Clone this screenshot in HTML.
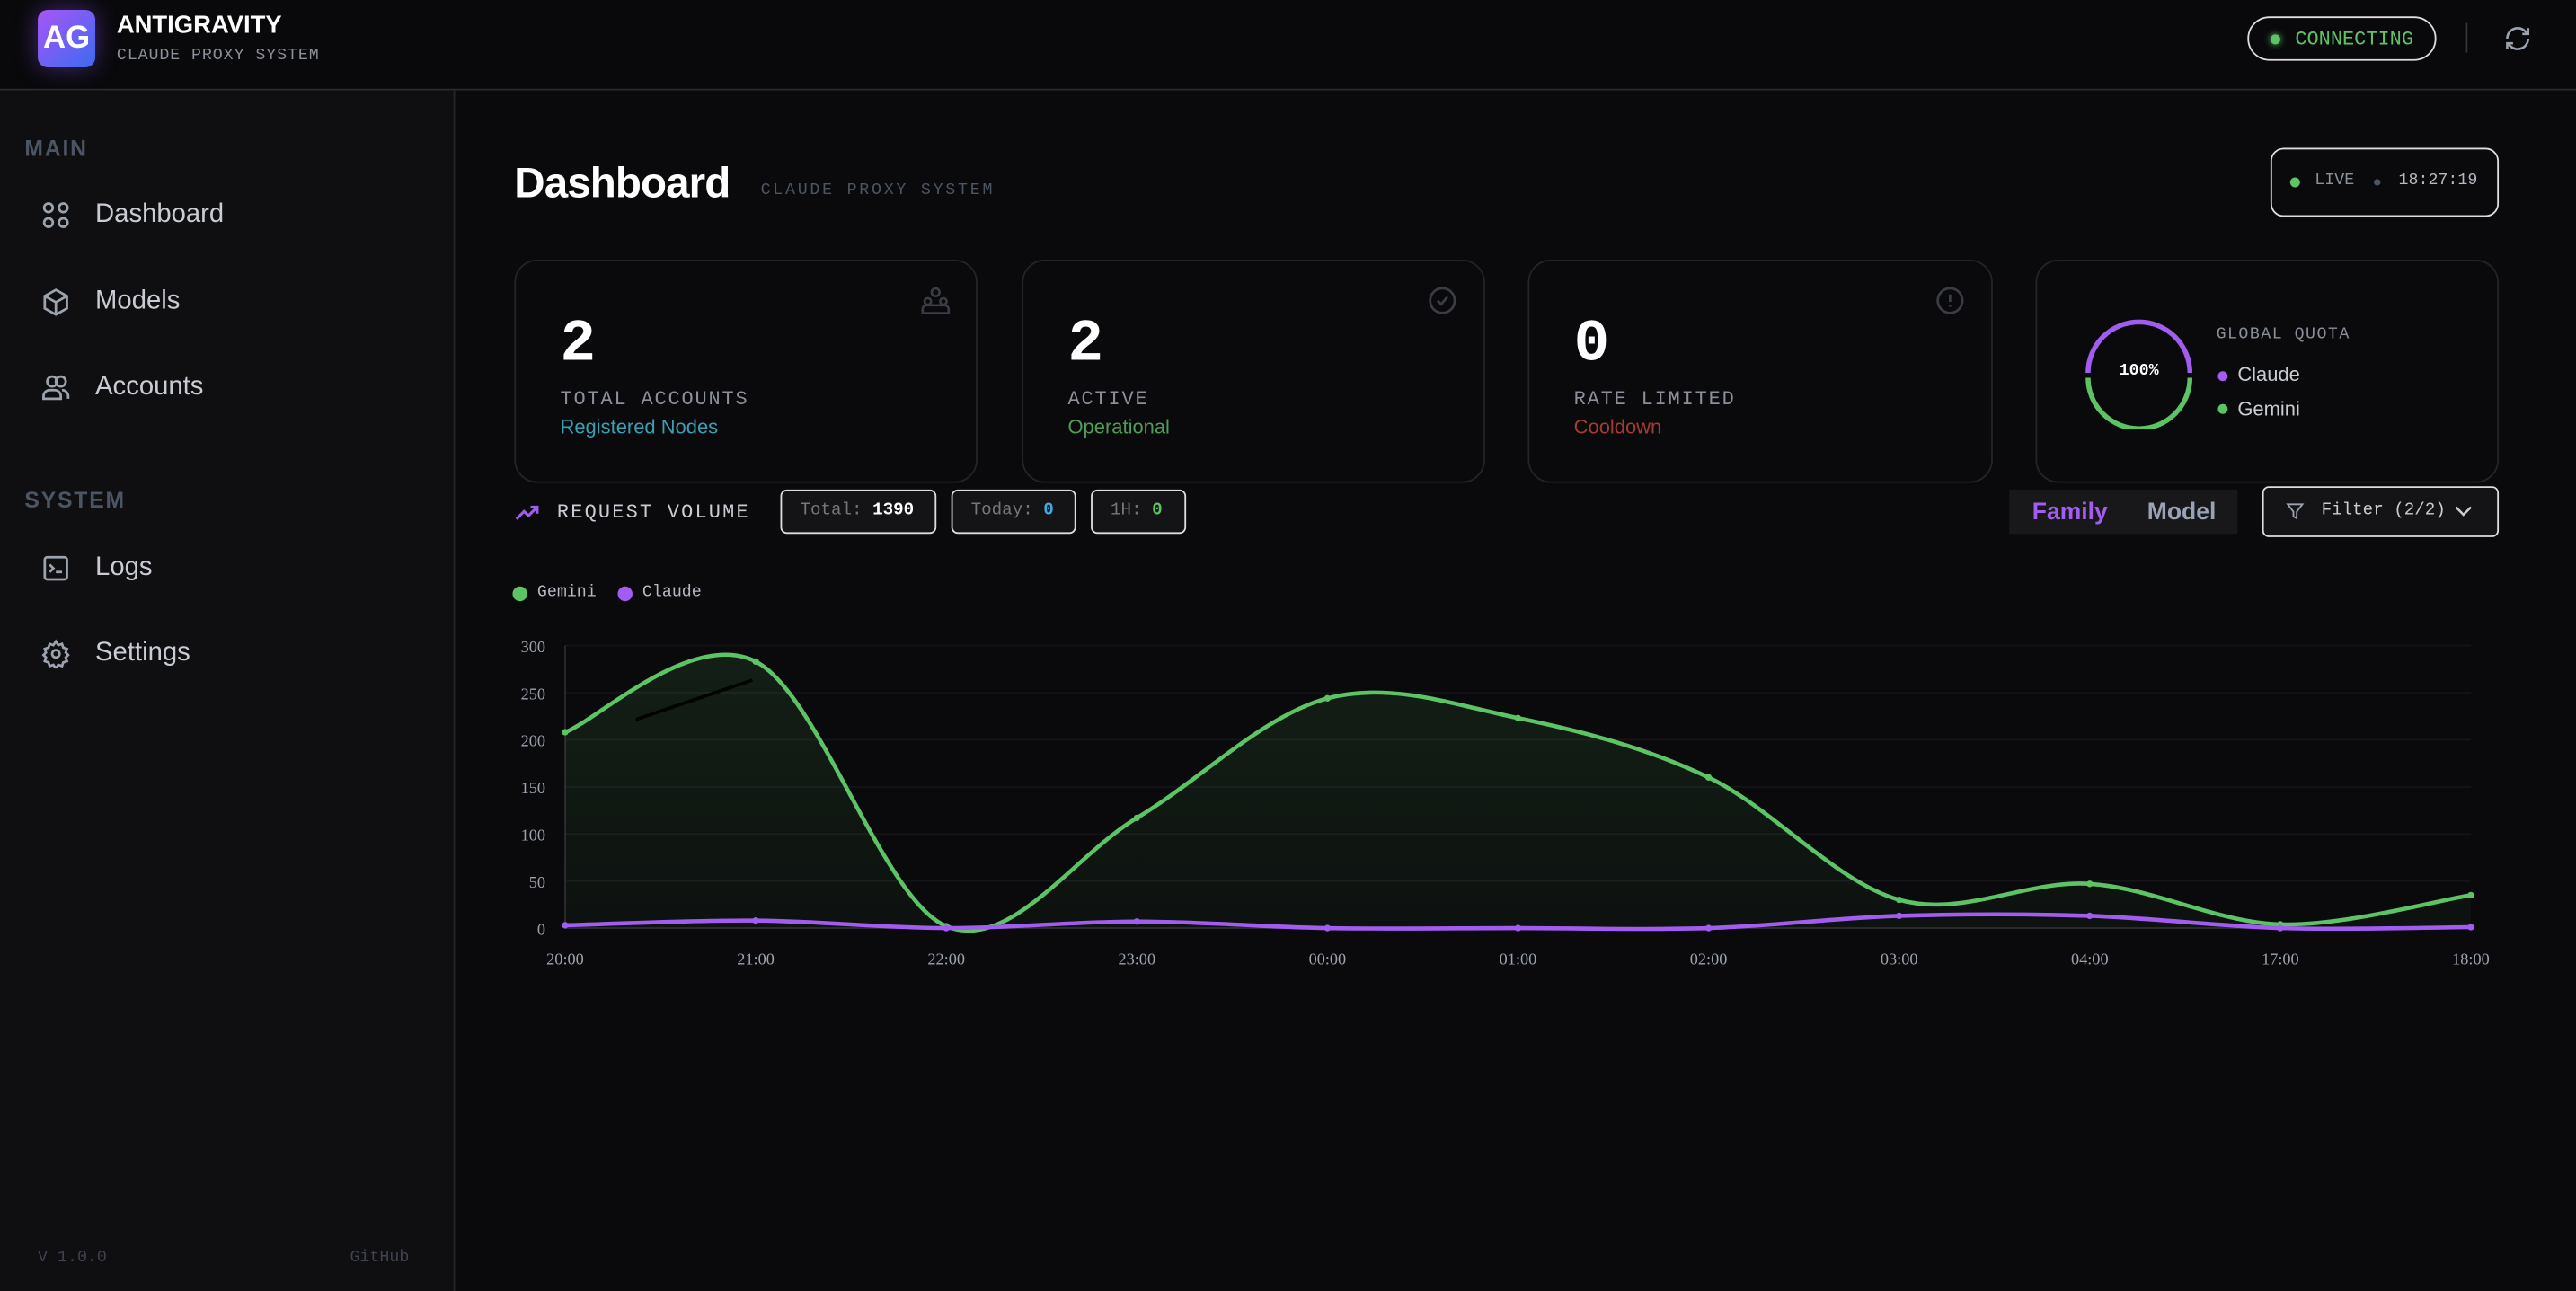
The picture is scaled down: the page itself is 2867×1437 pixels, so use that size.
<!DOCTYPE html>
<html><head><meta charset="utf-8">
<style>
html,body{margin:0;padding:0;background:#0a0a0c;overflow:hidden;width:2867px;height:1436px}
#w{position:absolute;left:0;top:0;width:1568px;height:785.4px;transform:scale(1.82844);transform-origin:0 0;font-family:"Liberation Sans",sans-serif;color:#e5e7eb}
.a{position:absolute;white-space:nowrap}
.m{font-family:"Liberation Mono",monospace}
.card{position:absolute;top:158px;height:136px;border:1px solid #232329;border-radius:14px;background:#0a0a0c;box-sizing:border-box}
.num{position:absolute;left:27px;top:30px;font:bold 36px "Liberation Mono",monospace;color:#fff}
.lbl{position:absolute;left:27px;top:77px;font:12px "Liberation Mono",monospace;letter-spacing:1px;color:#8b8f9a}
.sub{position:absolute;left:27px;top:94px;font:12px "Liberation Sans",sans-serif}
.badge{position:absolute;top:298px;height:27px;border:1px solid #ddd;border-radius:4px;background:#141417;box-sizing:border-box;font:10.5px "Liberation Mono",monospace;color:#777;line-height:25px;padding-left:11px}
.nav{position:absolute;left:58px;font-size:16px;color:#c9ccd3}
.ic{position:absolute;left:25px;width:18px;height:18px}
</style></head><body><div id="w">
<div class="a" style="left:0;top:0;width:1568px;height:54px;background:#09090b;border-bottom:1px solid #2a2a2e"></div>
<div class="a" style="left:23px;top:6px;width:35px;height:35px;border-radius:6px;background:linear-gradient(135deg,#a855f7,#3b6cf0);box-shadow:0 0 14px rgba(140,80,240,.45);color:#fff;font:bold 19px 'Liberation Sans';line-height:35px;text-align:center">AG</div>
<div class="a" style="left:71px;top:7px;font:bold 15px 'Liberation Sans';color:#fff">ANTIGRAVITY</div>
<div class="a m" style="left:71px;top:29px;font-size:10px;letter-spacing:0.5px;color:#8b8f9a">CLAUDE PROXY SYSTEM</div>
<div class="a" style="left:1368px;top:10px;width:115px;height:27px;border:1px solid #ddd;border-radius:14px;box-sizing:border-box"></div>
<div class="a" style="left:1382px;top:21px;width:6px;height:6px;border-radius:50%;background:#5cc465;box-shadow:0 0 4px #5cc465"></div>
<div class="a m" style="left:1397px;top:17px;font-size:12px;color:#5cc465">CONNECTING</div>
<div class="a" style="left:1501px;top:14px;width:1px;height:18px;background:#333"></div>
<svg class="a" style="left:1524px;top:15px" width="17" height="17" viewBox="0 0 24 24" fill="none" stroke="#9ca3af" stroke-width="2"><path d="M3 12a9 9 0 0 1 15-6.7L21 8M21 3v5h-5M21 12a9 9 0 0 1-15 6.7L3 16M3 21v-5h5"/></svg>
<div class="a" style="left:0;top:55px;width:276px;height:731px;background:#0f0f11;border-right:1px solid #26262a"></div>
<div class="a" style="left:15px;top:83px;font:bold 13.5px 'Liberation Sans';letter-spacing:1px;color:#4b5563">MAIN</div>
<svg class="ic" style="top:122px" viewBox="0 0 24 24" fill="none" stroke="#9ca3af" stroke-width="2"><circle cx="6" cy="6" r="3.5"/><circle cx="18" cy="6" r="3.5"/><circle cx="6" cy="18" r="3.5"/><circle cx="18" cy="18" r="3.5"/></svg>
<div class="nav" style="top:122px">Dashboard</div>
<svg class="ic" style="top:175px" viewBox="0 0 24 24" fill="none" stroke="#9ca3af" stroke-width="2"><path d="M12 2l9 5v10l-9 5-9-5V7z M3 7l9 5 9-5 M12 12v10"/></svg>
<div class="nav" style="top:175px">Models</div>
<svg class="ic" style="top:227px" viewBox="0 0 24 24" fill="none" stroke="#9ca3af" stroke-width="2"><circle cx="9" cy="7" r="4"/><path d="M2 21v-2a5 5 0 0 1 5-5h4a5 5 0 0 1 5 5v2z"/><circle cx="16" cy="7" r="4"/><path d="M17 14a5 5 0 0 1 5 5v2"/></svg>
<div class="nav" style="top:227px">Accounts</div>
<div class="a" style="left:15px;top:297px;font:bold 13.5px 'Liberation Sans';letter-spacing:1px;color:#4b5563">SYSTEM</div>
<svg class="ic" style="top:337px" viewBox="0 0 24 24" fill="none" stroke="#9ca3af" stroke-width="2"><rect x="3" y="3" width="18" height="18" rx="2"/><path d="M7 9l3 3-3 3M12 15h5"/></svg>
<div class="nav" style="top:337px">Logs</div>
<svg class="ic" style="top:389px" viewBox="0 0 24 24" fill="none" stroke="#9ca3af" stroke-width="2"><circle cx="12" cy="12" r="3"/><path d="M12 2l2 3 3-1 1 3 3 1-1 3 2 2-2 2 1 3-3 1-1 3-3-1-2 3-2-3-3 1-1-3-3-1 1-3-2-2 2-2-1-3 3-1 1-3 3 1z"/></svg>
<div class="nav" style="top:389px">Settings</div>
<div class="a m" style="left:23px;top:761px;font-size:10px;color:#3f4350">V 1.0.0</div>
<div class="a m" style="left:213px;top:761px;font-size:10px;color:#3f4350">GitHub</div>
<div class="a" style="left:313px;top:96px;font:bold 26px 'Liberation Sans';color:#fff;letter-spacing:-0.5px">Dashboard</div>
<div class="a m" style="left:463px;top:111px;font-size:10px;letter-spacing:1.5px;color:#4b5563">CLAUDE PROXY SYSTEM</div>
<div class="a" style="left:1382px;top:90px;width:139px;height:42px;border:1px solid #ddd;border-radius:8px;box-sizing:border-box"></div>
<div class="a" style="left:1394px;top:108px;width:6px;height:6px;border-radius:50%;background:#5cc465"></div>
<div class="a m" style="left:1409px;top:105px;font-size:10px;color:#8b8f9a">LIVE</div>
<div class="a" style="left:1445px;top:109px;width:4px;height:4px;border-radius:50%;background:#4b5563"></div>
<div class="a m" style="left:1460px;top:105px;font-size:10px;color:#b5b9c2">18:27:19</div>
<div class="card" style="left:313px;width:282px"><div class="num">2</div><div class="lbl">TOTAL ACCOUNTS</div><div class="sub" style="color:#3d9eb0">Registered Nodes</div>
<svg class="a" style="left:246px;top:15px" width="19" height="19" viewBox="0 0 24 24" fill="none" stroke="#3a3d46" stroke-width="1.8"><circle cx="12" cy="5" r="3"/><circle cx="6" cy="12" r="2.5"/><circle cx="18" cy="12" r="2.5"/><path d="M2 21v-3a3 3 0 0 1 3-3h14a3 3 0 0 1 3 3v3z"/></svg></div>
<div class="card" style="left:622px;width:282px"><div class="num">2</div><div class="lbl">ACTIVE</div><div class="sub" style="color:#4f9d57">Operational</div>
<svg class="a" style="left:246px;top:15px" width="18" height="18" viewBox="0 0 24 24" fill="none" stroke="#3a3d46" stroke-width="2"><circle cx="12" cy="12" r="10"/><path d="M8 12l3 3 5-6"/></svg></div>
<div class="card" style="left:930px;width:283px"><div class="num">0</div><div class="lbl">RATE LIMITED</div><div class="sub" style="color:#a53b35">Cooldown</div>
<svg class="a" style="left:247px;top:15px" width="18" height="18" viewBox="0 0 24 24" fill="none" stroke="#3a3d46" stroke-width="2"><circle cx="12" cy="12" r="10"/><path d="M12 7v6M12 16v1"/></svg></div>
<div class="card" style="left:1239px;width:282px">
<svg class="a" style="left:28px;top:34px" width="68" height="68" viewBox="0 0 68 68" fill="none" stroke-width="3"><path d="M3 34A31 31 0 0 1 65 34" stroke="#a35cf0"/><path d="M3 37A31 31 0 0 0 65 37" stroke="#5cc465"/></svg>
<div class="a m" style="left:28px;top:62px;width:68px;text-align:center;font-size:10px;font-weight:bold;color:#fff">100%</div>
<div class="a m" style="left:109px;top:40px;font-size:10px;letter-spacing:0.8px;color:#8b8f9a">GLOBAL QUOTA</div>
<div class="a" style="left:110px;top:67px;width:6px;height:6px;border-radius:50%;background:#a35cf0"></div>
<div class="a" style="left:122px;top:62px;font-size:12px;color:#c9ccd3">Claude</div>
<div class="a" style="left:110px;top:87px;width:6px;height:6px;border-radius:50%;background:#5cc465"></div>
<div class="a" style="left:122px;top:83px;font-size:12px;color:#c9ccd3">Gemini</div>
</div>
<svg class="a" style="left:313px;top:305px" width="16" height="14" viewBox="0 0 24 20" fill="none" stroke="#a35cf0" stroke-width="2.5"><path d="M2 16l7-7 4 4 8-8M15 5h6v6"/></svg>
<div class="a m" style="left:339px;top:305px;font-size:12px;letter-spacing:1.2px;color:#c9ccd3">REQUEST VOLUME</div>
<div class="badge" style="left:475px;width:95px">Total: <b style="color:#fff">1390</b></div>
<div class="badge" style="left:579px;width:76px">Today: <b style="color:#3ab0e0">0</b></div>
<div class="badge" style="left:664px;width:58px">1H: <b style="color:#5cc465">0</b></div>
<div class="a" style="left:1223px;top:298px;width:139px;height:27px;background:#18181b"></div>
<div class="a" style="left:1237px;top:304px;font:bold 14.5px 'Liberation Sans';color:#a35cf0">Family</div>
<div class="a" style="left:1307px;top:304px;font:bold 14.5px 'Liberation Sans';color:#9aa3b5">Model</div>
<div class="a" style="left:1377px;top:296px;width:144px;height:31px;border:1px solid #ddd;border-radius:4px;background:#141417;box-sizing:border-box"></div>
<svg class="a" style="left:1391px;top:305px" width="12" height="13" viewBox="0 0 24 24" fill="none" stroke="#9ca3af" stroke-width="2"><path d="M3 3h18l-7 9v8l-4-2v-6z"/></svg>
<div class="a m" style="left:1413px;top:305px;font-size:10.5px;color:#c9ccd3">Filter (2/2)</div>
<svg class="a" style="left:1494px;top:307px" width="11" height="9" viewBox="0 0 12 8" fill="none" stroke="#c9ccd3" stroke-width="1.5"><path d="M1 1l5 5 5-5"/></svg>
<div class="a" style="left:312px;top:357px;width:9px;height:9px;border-radius:50%;background:#5cc465"></div>
<div class="a m" style="left:327px;top:356px;font-size:10px;color:#b5b9c2">Gemini</div>
<div class="a" style="left:376px;top:357px;width:9px;height:9px;border-radius:50%;background:#a35cf0"></div>
<div class="a m" style="left:391px;top:356px;font-size:10px;color:#b5b9c2">Claude</div>
<svg id="ch" class="a" style="left:0;top:0" width="1568" height="785"></svg>
</div>
<script>
var X0=344,dx=116,Y0=565,k=172/300;
var g=[208,283,2,117,244,223,160,30,47,4,35],c=[3,8,0,7,0,0,0,13,13,0,1];
var lab=["20:00","21:00","22:00","23:00","00:00","01:00","02:00","03:00","04:00","17:00","18:00"];
function pts(a){return a.map(function(v,i){return [X0+i*dx,Y0-v*k]})}
function path(p){var d="M"+p[0][0]+","+p[0][1];for(var i=0;i<p.length-1;i++){var p0=p[i-1]||p[i],p1=p[i],p2=p[i+1],p3=p[i+2]||p2,t=6;
d+=" C"+(p1[0]+(p2[0]-p0[0])/t)+","+(p1[1]+(p2[1]-p0[1])/t)+" "+(p2[0]-(p3[0]-p1[0])/t)+","+(p2[1]-(p3[1]-p1[1])/t)+" "+p2[0]+","+p2[1];}return d}
var s='<defs><linearGradient id="gf" x1="0" y1="0" x2="0" y2="1"><stop offset="0" stop-color="#5cc465" stop-opacity=".12"/><stop offset="1" stop-color="#5cc465" stop-opacity=".04"/></linearGradient></defs>';
for(var v=0;v<=300;v+=50){var y=Y0-v*k;s+='<line x1="'+X0+'" x2="1504" y1="'+y+'" y2="'+y+'" stroke="'+(v?'#141418':'#2a2a2e')+'"/>';s+='<text x="332" y="'+(y+4)+'" text-anchor="end" font-family="Liberation Serif" font-size="10" fill="#9ca3af">'+v+'</text>';}
s+='<line x1="'+X0+'" x2="'+X0+'" y1="393" y2="565" stroke="#2a2a2e"/>';
lab.forEach(function(l,i){s+='<text x="'+(X0+i*dx)+'" y="587" text-anchor="middle" font-family="Liberation Serif" font-size="10" fill="#9ca3af">'+l+'</text>'});
var pg=pts(g),pc=pts(c),dg=path(pg);
s+='<path d="'+dg+' L1504,565 L344,565Z" fill="url(#gf)"/>';
s+='<line x1="387" y1="438" x2="458" y2="414" stroke="#000" stroke-width="2"/>';
s+='<path d="'+dg+'" fill="none" stroke="#5cc465" stroke-width="2.5"/>';
s+='<path d="'+path(pc)+'" fill="none" stroke="#a35cf0" stroke-width="2.5"/>';
pg.forEach(function(p){s+='<circle cx="'+p[0]+'" cy="'+p[1]+'" r="2" fill="#5cc465"/>'});
pc.forEach(function(p){s+='<circle cx="'+p[0]+'" cy="'+p[1]+'" r="2" fill="#a35cf0"/>'});
document.getElementById('ch').innerHTML=s;
</script>
</body></html>
